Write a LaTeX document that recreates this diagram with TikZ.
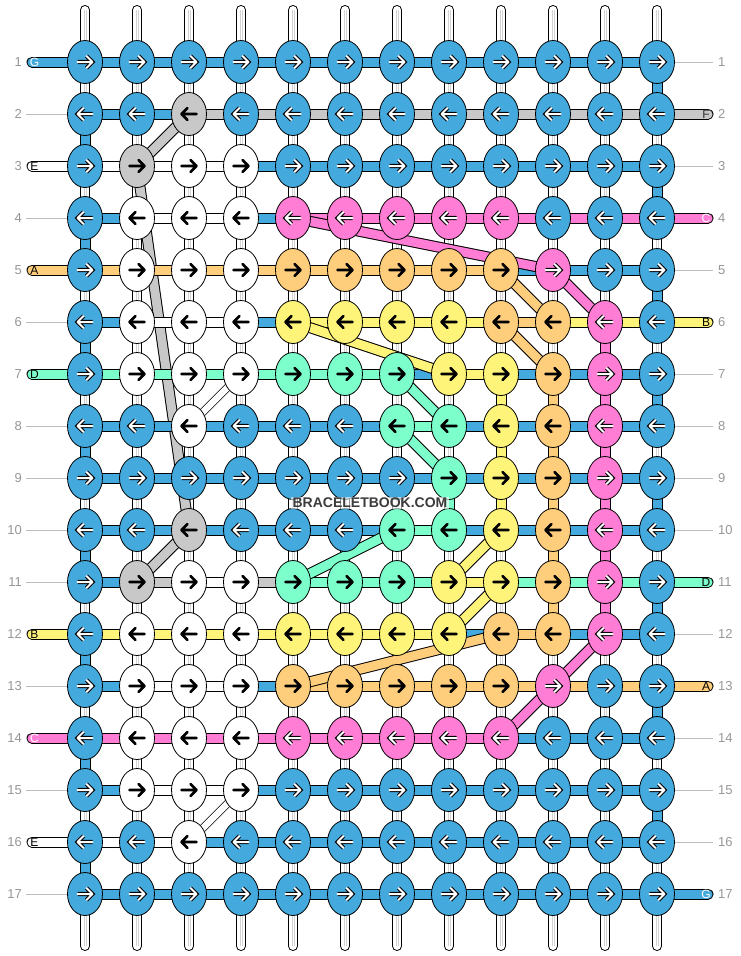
\documentclass[tikz,border=0pt]{standalone}
\usepackage{fontspec}
\setmainfont{Liberation Sans}
\usetikzlibrary{shapes.geometric}
\pgfdeclarelayer{strings}
\pgfdeclarelayer{threads}
\pgfsetlayers{strings,threads,main}

\definecolor{col-b}{RGB}{68,170,221}
\definecolor{col-g}{RGB}{200,200,200}
\definecolor{col-w}{RGB}{255,255,255}
\definecolor{col-p}{RGB}{255,125,212}
\definecolor{col-o}{RGB}{255,206,125}
\definecolor{col-y}{RGB}{255,244,122}
\definecolor{col-t}{RGB}{125,255,204}
\definecolor{numgray}{RGB}{150,150,150}
\definecolor{leadgray}{RGB}{190,190,190}
\definecolor{sitegray}{RGB}{60,60,60}

\tikzset{
  knot/.style={ellipse,draw=black,line width=0.8pt,minimum width=35pt,minimum height=43pt,inner sep=0pt},
  knot-b/.style={knot,fill=col-b}, knot-g/.style={knot,fill=col-g},
  knot-w/.style={knot,fill=col-w}, knot-p/.style={knot,fill=col-p},
  knot-o/.style={knot,fill=col-o}, knot-y/.style={knot,fill=col-y},
  knot-t/.style={knot,fill=col-t},
  warrow/.style={white,line width=2pt,line cap=round,line join=round,preaction={draw=black,line width=4.2pt}},
  barrow/.style={black,line width=2.6pt,line cap=round,line join=round},
  arr-b/.style={warrow}, arr-p/.style={warrow},
  arr-g/.style={barrow}, arr-w/.style={barrow}, arr-o/.style={barrow},
  arr-y/.style={barrow}, arr-t/.style={barrow},
  band/.style={line width=1pt,double=#1,double distance=9pt},
  thinband/.style={line width=0.7pt,double=white,double distance=6.5pt},
  bgstring/.style={line width=1pt,double=white,double distance=8pt,line cap=round},
  bgcore/.style={white,line width=0.8pt,preaction={draw=black!18,line width=3pt}},
  leader/.style={draw=leadgray,line width=0.9pt},
  rownum/.style={text=numgray,font=\fontsize{13}{13}\selectfont,inner sep=0pt},
  stubtext/.style={font=\fontsize{12}{12}\selectfont,inner sep=0pt},
  lbl-b/.style={stubtext,text=white}, lbl-p/.style={stubtext,text=white},
  lbl-g/.style={stubtext,text=black!80}, lbl-w/.style={stubtext,text=black},
  lbl-o/.style={stubtext,text=black}, lbl-y/.style={stubtext,text=black},
  lbl-t/.style={stubtext,text=black},
}

\begin{document}
\begin{tikzpicture}[x=1pt,y=-1pt]
  \useasboundingbox (0,0) rectangle (740,956);

  % knots, one row per list
  \foreach \row [count=\r] in {
      {b,b,b,b,b,b,b,b,b,b,b,b},
      {b,b,g,b,b,b,b,b,b,b,b,b},
      {b,g,w,w,b,b,b,b,b,b,b,b},
      {b,w,w,w,p,p,p,p,p,b,b,b},
      {b,w,w,w,o,o,o,o,o,p,b,b},
      {b,w,w,w,y,y,y,y,o,o,p,b},
      {b,w,w,w,t,t,t,y,y,o,p,b},
      {b,b,w,b,b,b,t,t,y,o,p,b},
      {b,b,b,b,b,b,b,t,y,o,p,b},
      {b,b,g,b,b,b,t,t,y,o,p,b},
      {b,g,w,w,t,t,t,y,y,o,p,b},
      {b,w,w,w,y,y,y,y,o,o,p,b},
      {b,w,w,w,o,o,o,o,o,p,b,b},
      {b,w,w,w,p,p,p,p,p,b,b,b},
      {b,w,w,w,b,b,b,b,b,b,b,b},
      {b,b,w,b,b,b,b,b,b,b,b,b},
      {b,b,b,b,b,b,b,b,b,b,b,b}}{
    \pgfmathtruncatemacro\d{ifthenelse(mod(\r,2)==1,1,-1)}
    \foreach \k [count=\c] in \row {
      \node[knot-\k] (k-\r-\c) at ({85+52*(\c-1)},{62+52*(\r-1)}) {};
      \draw[arr-\k,shift={(k-\r-\c.center)},xscale=\d]
        (-7.5,0) -- (7.5,0) (1.5,-6) -- (7.5,0) -- (1.5,6);
    }
    % row numbers
    \node[rownum,anchor=east] (nl-\r) at (22,{62+52*(\r-1)}) {\r};
    \node[rownum,anchor=west] (nr-\r) at (718,{62+52*(\r-1)}) {\r};
  }

  % plain background strings
  \begin{pgfonlayer}{strings}
    \foreach \c in {1,...,12}{
      \coordinate (top-\c) at ({85+52*(\c-1)},10);
      \coordinate (bot-\c) at ({85+52*(\c-1)},946);
      \draw[bgstring] (top-\c) -- (bot-\c);
      \draw[bgcore] (top-\c) -- (bot-\c);
    }
  \end{pgfonlayer}

  \begin{pgfonlayer}{threads}
    % threads going straight down
    \foreach \c/\r/\col in {1/2/b,1/4/b,1/6/b,1/8/b,1/10/b,1/12/b,1/14/b,1/16/b,
        12/1/b,12/3/b,12/5/b,12/7/b,12/9/b,12/11/b,12/13/b,12/15/b,
        8/9/t,9/7/y,9/8/y,9/9/y,10/7/o,10/8/o,10/9/o,10/10/o,10/11/o,
        11/6/p,11/7/p,11/8/p,11/9/p,11/10/p,11/11/p}{
      \pgfmathtruncatemacro\n{\r+1}
      \draw[band=col-\col] (k-\r-\c.center) -- (k-\n-\c.center);
    }
    % threads under the rows
    \draw[band=col-g] (k-3-2.center) -- (k-10-3.center);
    \draw[thinband] (k-7-4.center) -- (k-8-3.center);
    \draw[thinband] (k-15-4.center) -- (k-16-3.center);
    % rows
    \foreach \row [count=\r] in {
        {b,b,b,b,b,b,b,b,b,b,b},
        {b,b,g,g,g,g,g,g,g,g,g},
        {w,w,w,b,b,b,b,b,b,b,b},
        {b,w,w,b,p,p,p,p,p,p,p},
        {o,o,o,o,o,o,o,o,b,b,b},
        {b,w,w,b,y,y,y,y,o,y,y},
        {t,t,t,t,t,t,b,y,b,b,b},
        {b,b,b,b,b,b,t,b,b,b,b},
        {b,b,b,b,b,b,b,b,b,b,b},
        {b,b,b,b,b,b,t,b,b,b,b},
        {b,g,w,g,t,t,t,y,t,t,t},
        {y,y,y,y,y,y,y,b,o,b,b},
        {b,w,w,b,o,o,o,o,o,o,o},
        {p,p,p,p,p,p,p,p,b,b,b},
        {b,w,w,b,b,b,b,b,b,b,b},
        {w,w,b,b,b,b,b,b,b,b,b},
        {b,b,b,b,b,b,b,b,b,b,b}}{
      \foreach \g [count=\c] in \row {
        \pgfmathtruncatemacro\n{\c+1}
        \draw[band=col-\g] (k-\r-\c.center) -- (k-\r-\n.center);
      }
    }
    % loose ends on the left
    \foreach \r/\col/\name in {1/b/G,3/w/E,5/o/A,7/t/D,12/y/B,14/p/C,16/w/E}{
      \coordinate (ls-\r) at (32,{62+52*(\r-1)});
      \draw[band=col-\col,line cap=round] (ls-\r) -- (k-\r-1.center);
      \node[lbl-\col] (lt-\r) at (34.5,{62+52*(\r-1)}) {\name};
    }
    % loose ends on the right
    \foreach \r/\col/\name in {2/g/F,4/p/C,6/y/B,11/t/D,13/o/A,17/b/G}{
      \coordinate (rs-\r) at (708,{62+52*(\r-1)});
      \draw[band=col-\col,line cap=round] (k-\r-12.center) -- (rs-\r);
      \node[lbl-\col] (rt-\r) at (706,{62+52*(\r-1)}) {\name};
    }
    % threads crossing between rows
    \foreach \ri/\ci/\ro/\co/\col in {2/3/3/2/g,10/3/11/2/g,
        4/5/5/10/p,5/10/6/11/p,12/11/13/10/p,13/10/14/9/p,
        5/9/6/10/o,6/9/7/10/o,12/9/13/5/o,
        6/5/7/8/y,10/9/11/8/y,11/9/12/8/y,
        7/7/8/8/t,8/7/9/8/t,10/7/11/5/t}{
      \draw[band=col-\col] (k-\ri-\ci.center) -- (k-\ro-\co.center);
    }
  \end{pgfonlayer}

  % leader lines to the row numbers
  \foreach \r in {2,4,6,8,9,10,11,13,15,17}{
    \coordinate (ll-\r) at (26,{62+52*(\r-1)});
    \draw[leader] (ll-\r) -- (k-\r-1.west);
  }
  \foreach \r in {1,3,5,7,8,9,10,12,14,15,16}{
    \coordinate (rl-\r) at (713,{62+52*(\r-1)});
    \draw[leader] (k-\r-12.east) -- (rl-\r);
  }

  \node[font=\bfseries\fontsize{14}{14}\selectfont,text=sitegray,fill=white,
        fill opacity=0.6,text opacity=1,inner sep=1.5pt] (site) at (370,503) {BRACELETBOOK.COM};
\end{tikzpicture}
\end{document}
